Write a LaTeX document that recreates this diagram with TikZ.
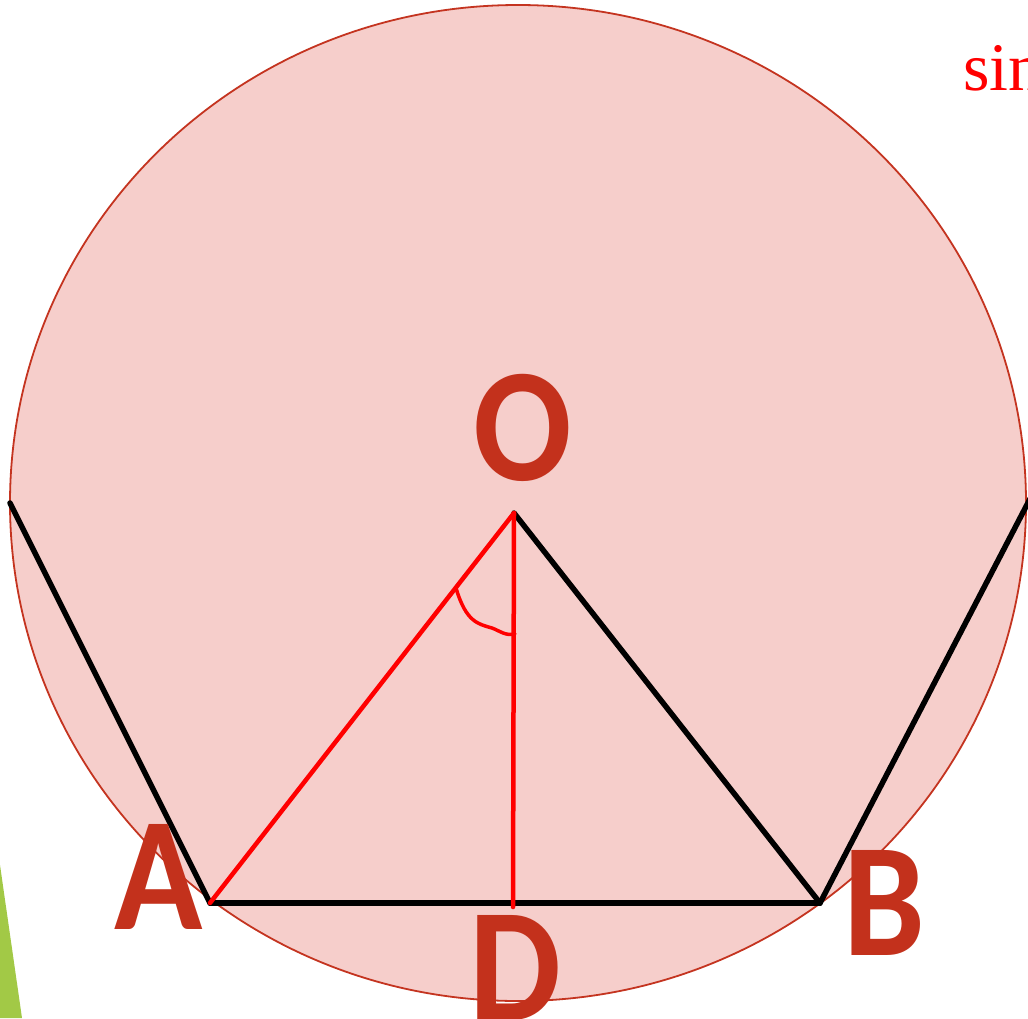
\documentclass[tikz,border=0pt]{standalone}
\usepackage{fontspec}
\setmainfont{Liberation Serif}
\newfontfamily\lblfont{Carlito}
\definecolor{circfill}{RGB}{246,206,203}
\definecolor{circline}{RGB}{196,52,32}
\definecolor{lblred}{RGB}{195,49,28}
\definecolor{linered}{RGB}{255,0,0}
\definecolor{leafgreen}{RGB}{162,201,70}
\newcommand{\narrowlbl}[1]{\scalebox{0.9}[1]{#1}}
\begin{document}
\begin{tikzpicture}[x=1pt,y=-1pt,
  blk/.style={black,line width=5.5pt,line cap=round},
  rd/.style={linered,line width=4.5pt,line cap=round},
  lbl/.style={text=lblred,font=\lblfont\bfseries\fontsize{162}{162}\selectfont,inner sep=0pt,anchor=base}]
\useasboundingbox (0,0) rectangle (1028,1018);
\begin{scope}
\clip (0,0) rectangle (1028,1018);
\fill[leafgreen] (0,865) -- (22,1018) -- (0,1018) -- cycle;
\filldraw[fill=circfill,draw=circline,line width=1.8pt] (518,503) ellipse [x radius=508, y radius=498];
\coordinate (O) at (514,513);
\coordinate (A) at (210,903);
\coordinate (B) at (820,903);
\coordinate (D) at (513,907);
\coordinate (L) at (10,503);
\coordinate (R) at (1032,495);
\coordinate (P1) at (456,588);
\coordinate (P2) at (515,634);
\draw[blk] (L) -- (A);
\draw[blk] (A) -- (B);
\draw[blk] (O) -- (B);
\draw[blk] (B) -- (R);
\draw[rd] (O) -- (A);
\draw[rd] (O) -- (D);
\draw[linered,line width=3.5pt,line cap=round] (P1) .. controls (466,622) and (478,624) .. (492,628) .. controls (500,631) and (505,636) .. (P2);
\node[lbl] (lO) at (523,480) {\narrowlbl{O}};
\node[lbl] (lA) at (159,929) {\narrowlbl{A}};
\node[lbl] (lB) at (884,955) {\narrowlbl{B}};
\node[lbl] (lD) at (515,1020) {\narrowlbl{D}};
\node[anchor=base west,inner sep=0pt,text=linered,font=\fontsize{68}{68}\selectfont] (sin) at (963,90) {sin};
\end{scope}
\end{tikzpicture}
\end{document}
